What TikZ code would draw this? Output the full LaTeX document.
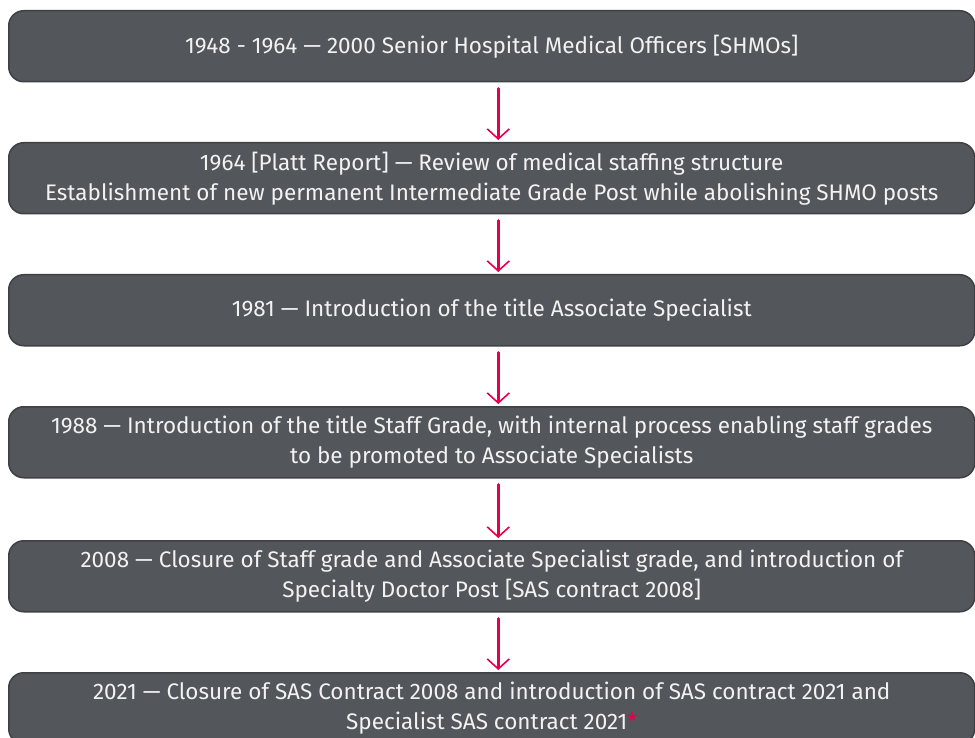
\documentclass[tikz,border=0pt]{standalone}
\usepackage{fontspec}
\setmainfont{Fira Sans}
\usetikzlibrary{arrows.meta}
\definecolor{boxgray}{HTML}{53565A}
\definecolor{boxedge}{HTML}{3E4044}
\definecolor{crimson}{HTML}{E4004B}
\definecolor{boxtext}{HTML}{F2F2F2}
\begin{document}
\begin{tikzpicture}[x=1pt,y=-1pt,
  stage/.style={draw=boxedge, line width=1.5pt, fill=boxgray, rounded corners=15pt,
    minimum width=966pt, minimum height=71pt, inner sep=0pt, anchor=north west,
    text=boxtext, align=center, font=\fontsize{22.5}{30}\selectfont},
  flow/.style={draw=crimson, line width=2.6pt, line cap=round,
    -{Straight Barb[length=10pt,width=22pt,line width=1.6pt]}}]
\useasboundingbox (0,0) rectangle (975,738);
\clip (0,0) rectangle (975,738);

\node[stage] (b1) at (8,10)  {1948 - 1964 — 2000 Senior Hospital Medical Officers [SHMOs]};
\node[stage] (b2) at (8,142) {1964 [Platt Report] — Review of medical staffing structure\\Establishment of new permanent Intermediate Grade Post while abolishing SHMO posts};
\node[stage] (b3) at (8,274) {1981 — Introduction of the title Associate Specialist};
\node[stage] (b4) at (8,406) {1988 — Introduction of the title Staff Grade, with internal process enabling staff grades\\to be promoted to Associate Specialists};
\node[stage] (b5) at (8,540) {2008 — Closure of Staff grade and Associate Specialist grade, and introduction of\\Specialty Doctor Post [SAS contract 2008]};
\node[stage] (b6) at (8,672) {2021 — Closure of SAS Contract 2008 and introduction of SAS contract 2021 and\\Specialist SAS contract 2021\textcolor{crimson}{*}};

\foreach \a/\b in {b1/b2,b2/b3,b3/b4,b4/b5,b5/b6}{
  \draw[flow] ([xshift=6.5pt,yshift=-6pt]\a.south) -- ([xshift=6.5pt,yshift=2pt]\b.north);
}
\end{tikzpicture}
\end{document}
